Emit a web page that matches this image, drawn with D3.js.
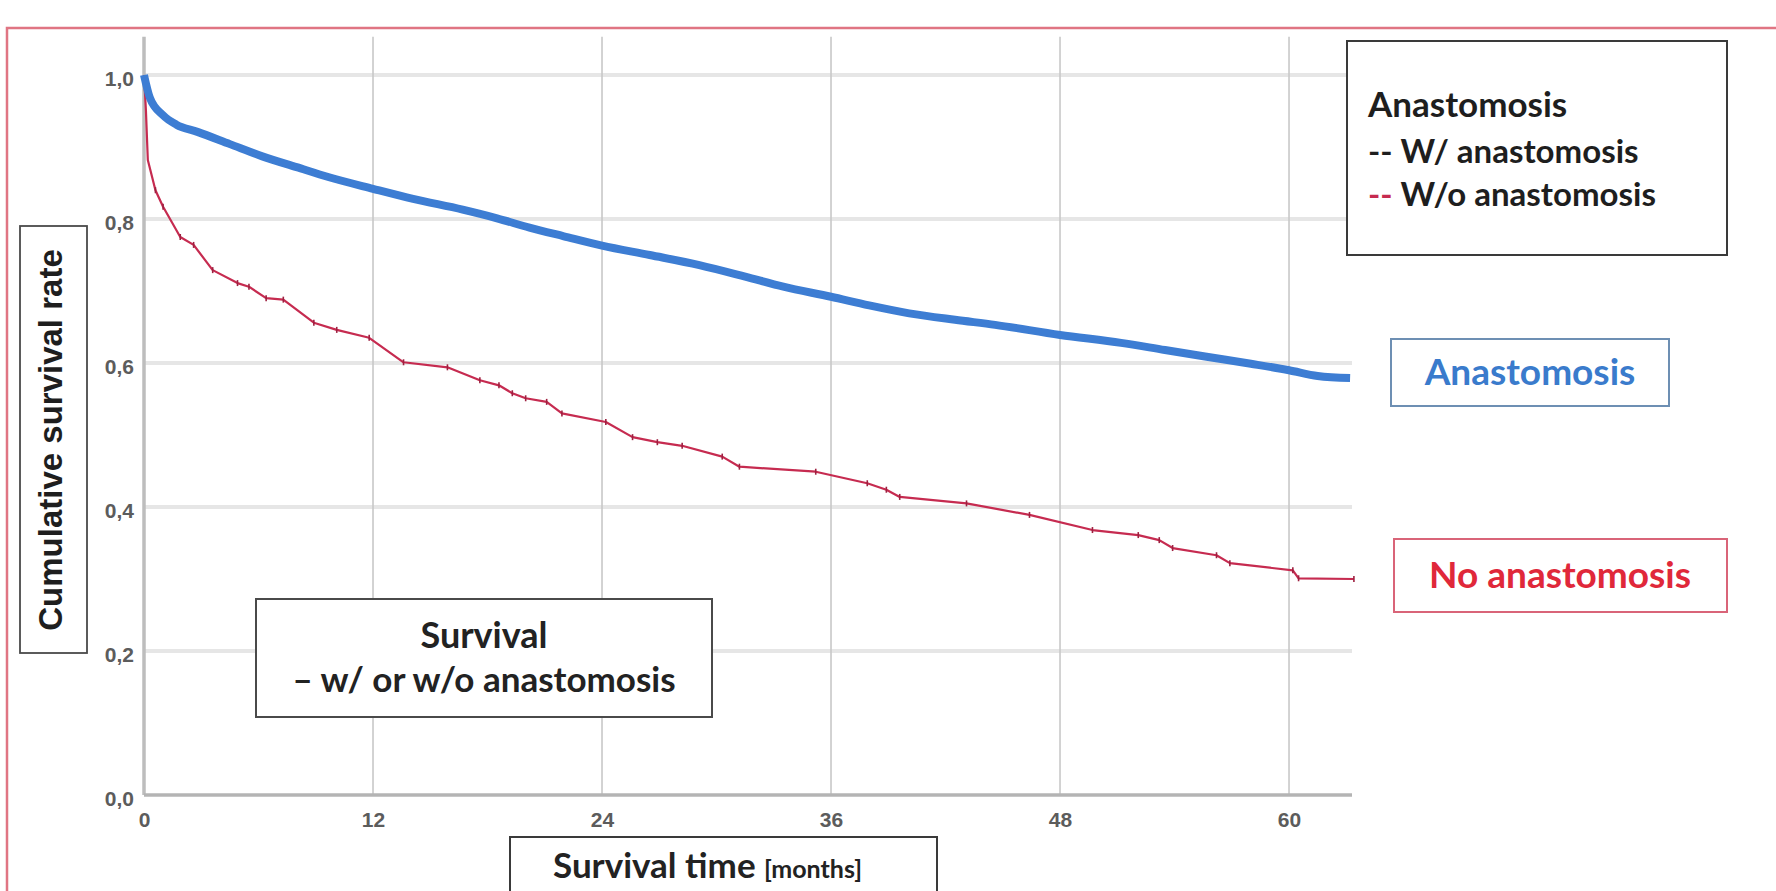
<!DOCTYPE html>
<html>
<head>
<meta charset="utf-8">
<script src="https://cdn.jsdelivr.net/npm/d3@7"></script>
<style>
  body { margin: 0; background: #fff; }
  svg { display: block; }
</style>
</head>
<body>
<div id="graph"></div>
<script>
// Kaplan-Meier survival, months vs cumulative survival
let anaTime = [0, 0.3, 1.0, 1.7, 2.8, 4.5, 6.2, 8.0, 9.7, 12, 14.1, 16.7, 18.5, 20.2, 22, 24, 26.5, 29.1, 31.5, 33.5, 36, 38, 40.1, 42.5, 44.6, 48, 51.2, 53.5, 55.6, 58, 60, 61.5, 63.2];
let anaSurv = [1.0, 0.969, 0.944, 0.931, 0.921, 0.904, 0.887, 0.872, 0.858, 0.842, 0.828, 0.813, 0.801, 0.788, 0.776, 0.763, 0.75, 0.736, 0.72, 0.706, 0.692, 0.68, 0.669, 0.66, 0.653, 0.639, 0.628, 0.618, 0.609, 0.599, 0.59, 0.582, 0.579];

let noAnaTime = [0, 0.1, 0.2, 0.6, 1.0, 1.9, 2.6, 3.6, 4.9, 5.5, 6.4, 7.3, 8.9, 10.1, 11.8, 13.6, 15.9, 17.6, 18.6, 19.3, 20.0, 21.1, 21.9, 24.2, 25.6, 26.9, 28.2, 30.3, 31.2, 35.2, 37.9, 38.9, 39.6, 43.1, 46.4, 49.7, 52.1, 53.2, 53.9, 56.2, 56.9, 60.2, 60.5, 63.4];
let noAnaSurv = [1.0, 0.951, 0.882, 0.84, 0.817, 0.775, 0.764, 0.729, 0.711, 0.706, 0.69, 0.688, 0.656, 0.646, 0.635, 0.601, 0.594, 0.576, 0.569, 0.558, 0.551, 0.546, 0.53, 0.518, 0.497, 0.49, 0.485, 0.47, 0.456, 0.449, 0.433, 0.424, 0.414, 0.405, 0.389, 0.368, 0.361, 0.354, 0.343, 0.333, 0.322, 0.312, 0.301, 0.3];

let xTicks = [0, 12, 24, 36, 48, 60];
let yTicks = [0, 0.2, 0.4, 0.6, 0.8, 1.0];

let legendTitle = "Anastomosis";
let legendItems = ["W/ anastomosis", "W/o anastomosis"];
let seriesLabels = ["Anastomosis", "No anastomosis"];

let width = 1776,
  height = 891;

let blue = "#3d7dd3",
  red = "#c62b50",
  boxFont = "Lato, 'Open Sans', sans-serif";

let svg = d3
  .select("#graph")
  .append("svg")
  .attr("width", width)
  .attr("height", height);

// red frame around the slide
svg
  .append("path")
  .attr("d", "M7,891 V28 H1776")
  .attr("fill", "none")
  .attr("stroke", "#e07583")
  .attr("stroke-width", 2.5);

// scales
let x = d3.scaleLinear().domain([0, 63.3]).range([144, 1352]);
let y = d3.scaleLinear().domain([0, 1]).range([795, 75]);

// horizontal gridlines
svg
  .append("g")
  .selectAll("line")
  .data(yTicks.slice(1))
  .enter()
  .append("line")
  .attr("x1", x(0))
  .attr("x2", x(63.3))
  .attr("y1", (d) => y(d))
  .attr("y2", (d) => y(d))
  .attr("stroke", "#e6e6e6")
  .attr("stroke-width", 4);

// vertical gridlines
svg
  .append("g")
  .selectAll("line")
  .data(xTicks.slice(1))
  .enter()
  .append("line")
  .attr("x1", (d) => x(d))
  .attr("x2", (d) => x(d))
  .attr("y1", y(0))
  .attr("y2", y(1.053))
  .attr("stroke", "#c8c8c8")
  .attr("stroke-width", 1.6);

// axis lines
svg
  .append("line")
  .attr("x1", x(0))
  .attr("x2", x(0))
  .attr("y1", y(0))
  .attr("y2", y(1.053))
  .attr("stroke", "#bdbdbd")
  .attr("stroke-width", 3.5);
svg
  .append("line")
  .attr("x1", x(0))
  .attr("x2", x(63.3))
  .attr("y1", y(0))
  .attr("y2", y(0))
  .attr("stroke", "#b4b4b4")
  .attr("stroke-width", 3.5);

// tick labels
let yAxis = svg
  .append("g")
  .attr("transform", "translate(" + x(0) + ",0)")
  .call(
    d3
      .axisLeft(y)
      .tickValues(yTicks)
      .tickSize(0)
      .tickPadding(10)
      .tickFormat((d) => d3.format(".1f")(d).replace(".", ","))
  );
let xAxis = svg
  .append("g")
  .attr("transform", "translate(0," + y(0) + ")")
  .call(d3.axisBottom(x).tickValues(xTicks).tickSize(0).tickPadding(17));

svg.selectAll(".domain").remove();
svg
  .selectAll(".tick text")
  .style("font-family", "'Liberation Sans', Arial, sans-serif")
  .style("font-size", "21px")
  .style("font-weight", "bold")
  .attr("fill", "#5c5c5c");
yAxis.selectAll(".tick text").attr("dy", "0.5em");

// curves
let anaData = anaTime.map((t, i) => ({ t: t, s: anaSurv[i] }));
let noAnaData = noAnaTime.map((t, i) => ({ t: t, s: noAnaSurv[i] }));

let line = d3
  .line()
  .x((d) => x(d.t))
  .y((d) => y(d.s));

svg
  .append("path")
  .datum(noAnaData)
  .attr("d", line.curve(d3.curveLinear))
  .attr("fill", "none")
  .attr("stroke", red)
  .attr("stroke-width", 2.2)
  .attr("stroke-linejoin", "round");

// censor marks on the no-anastomosis curve
svg
  .append("g")
  .selectAll("line")
  .data(noAnaData.slice(3))
  .enter()
  .append("line")
  .attr("x1", (d) => x(d.t))
  .attr("x2", (d) => x(d.t))
  .attr("y1", (d) => y(d.s) - 3)
  .attr("y2", (d) => y(d.s) + 3)
  .attr("stroke", "#9e2040")
  .attr("stroke-width", 1.6);

svg
  .append("path")
  .datum(anaData)
  .attr("d", line.curve(d3.curveMonotoneX))
  .attr("fill", "none")
  .attr("stroke", blue)
  .attr("stroke-width", 8)
  .attr("stroke-linecap", "butt")
  .attr("stroke-linejoin", "round");

// boxes
function drawBox(bx, by, bw, bh, stroke, sw) {
  svg
    .append("rect")
    .attr("x", bx)
    .attr("y", by)
    .attr("width", bw)
    .attr("height", bh)
    .attr("fill", "#fff")
    .attr("stroke", stroke)
    .attr("stroke-width", sw);
}

function boxText(tx, ty, str, size, color, anchor) {
  return svg
    .append("text")
    .attr("x", tx)
    .attr("y", ty)
    .attr("text-anchor", anchor || "start")
    .style("font-family", boxFont)
    .style("font-weight", "bold")
    .style("font-size", size + "px")
    .attr("fill", color)
    .text(str);
}

// y title
drawBox(20, 226, 67, 427, "#4a4a4a", 1.8);
svg
  .append("text")
  .attr("transform", "translate(62,440) rotate(-90)")
  .attr("text-anchor", "middle")
  .style("font-family", "'Liberation Sans', Arial, sans-serif")
  .style("font-weight", "bold")
  .style("font-size", "33px")
  .attr("fill", "#1e1e1e")
  .text("Cumulative survival rate");

// chart caption
drawBox(256, 599, 456, 118, "#4a4a4a", 2);
boxText(484, 648, "Survival", 36, "#222", "middle");
boxText(484, 692, "\u2013 w/ or w/o anastomosis", 35, "#222", "middle");

// x title
drawBox(510, 837, 427, 70, "#3a3a3a", 2);
let xt = boxText(553, 878, "Survival time ", 35, "#222");
xt.append("tspan").style("font-size", "25px").text("[months]");

// legend, top right
drawBox(1347, 41, 380, 214, "#3a3a3a", 2);
boxText(1368, 117, legendTitle, 35, "#1e1e1e");
legendItems.forEach((item, i) => {
  let t = boxText(1368, 163 + i * 43, "", 33, "#1e1e1e");
  t.append("tspan")
    .attr("fill", i === 0 ? "#1e1e1e" : red)
    .text("--");
  t.append("tspan").text(" " + item);
});

// series labels
drawBox(1391, 339, 278, 67, "#6d8fb3", 2);
boxText(1530, 385, seriesLabels[0], 37, "#3a7bcc", "middle");
drawBox(1394, 539, 333, 73, "#d96478", 2);
boxText(1560, 588, seriesLabels[1], 37, "#e0283a", "middle");
</script>
</body>
</html>
